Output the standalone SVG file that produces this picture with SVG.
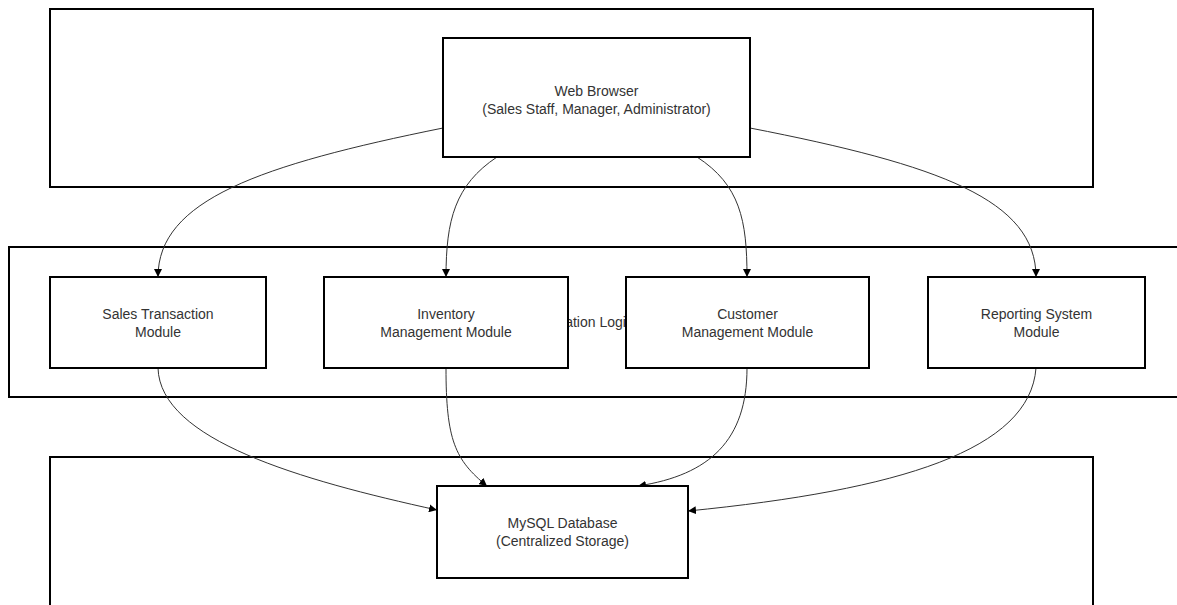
<svg xmlns="http://www.w3.org/2000/svg" width="1177" height="605" viewBox="0 0 1177 605">
<style>
.box{fill:#fff;stroke:#000;stroke-width:2}
.cont{fill:none;stroke:#000;stroke-width:2}
.t{font-family:"Liberation Sans",Arial,sans-serif;font-size:14px;fill:#333;text-anchor:middle}
.e{fill:none;stroke:#333;stroke-width:1;marker-end:url(#ah)}
</style>
<defs>
<marker id="ah" viewBox="0 0 10 10" refX="10" refY="5" markerWidth="8" markerHeight="8" markerUnits="userSpaceOnUse" orient="auto">
<path d="M0,0 L10,5 L0,10 z" fill="#000"/>
</marker>
</defs>
<rect width="1177" height="605" fill="#fff"/>
<g id="layer-presentation"><rect class="cont" x="50" y="9" width="1043" height="178"/></g>
<g id="layer-application"><rect class="cont" x="9" y="247" width="1170" height="150"/><text class="t" x="580" y="327">Application Logic</text></g>
<g id="layer-data"><rect class="cont" x="50" y="457" width="1043" height="160"/></g>
<g id="connectors">
<path class="e" d="M443,128 C260,165 158,200 158,277"/>
<path class="e" d="M497,157 C455,185 446,220 446,277"/>
<path class="e" d="M697,157 C740,185 747,220 747,277"/>
<path class="e" d="M750,128 C940,165 1036,200 1036,277"/>
<path class="e" d="M158,368 C160,440 300,480 437,510"/>
<path class="e" d="M446,368 C446,440 455,460 487,486"/>
<path class="e" d="M747,368 C747,440 710,475 638,486"/>
<path class="e" d="M1036,368 C1030,450 900,490 688,511"/>
</g>
<g id="web-browser"><rect class="box" x="443" y="38" width="307" height="119"/><text class="t" x="596.5" y="96">Web Browser</text><text class="t" x="596.5" y="114">(Sales Staff, Manager, Administrator)</text></g>
<g id="sales"><rect class="box" x="50" y="277" width="216" height="91"/><text class="t" x="158" y="319">Sales Transaction</text><text class="t" x="158" y="337">Module</text></g>
<g id="inventory"><rect class="box" x="324" y="277" width="244" height="91"/><text class="t" x="446" y="319">Inventory</text><text class="t" x="446" y="337">Management Module</text></g>
<g id="customer"><rect class="box" x="626" y="277" width="243" height="91"/><text class="t" x="747.5" y="319">Customer</text><text class="t" x="747.5" y="337">Management Module</text></g>
<g id="reporting"><rect class="box" x="928" y="277" width="217" height="91"/><text class="t" x="1036.5" y="319">Reporting System</text><text class="t" x="1036.5" y="337">Module</text></g>
<g id="mysql"><rect class="box" x="437" y="486" width="251" height="92"/><text class="t" x="562.5" y="528">MySQL Database</text><text class="t" x="562.5" y="546">(Centralized Storage)</text></g>
</svg>
